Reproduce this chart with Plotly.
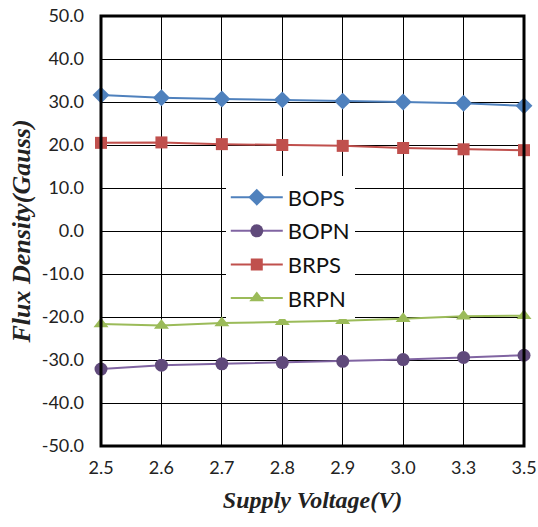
import plotly.graph_objects as go

voltages = ["2.5", "2.6", "2.7", "2.8", "2.9", "3.0", "3.3", "3.5"]
bops = [31.6, 31.0, 30.7, 30.5, 30.2, 30.0, 29.7, 29.1]
bopn = [-32.1, -31.2, -30.9, -30.6, -30.3, -29.9, -29.4, -28.9]
brps = [20.5, 20.6, 20.2, 20.0, 19.8, 19.3, 19.0, 18.8]
brpn = [-21.6, -22.0, -21.4, -21.1, -20.9, -20.4, -19.8, -19.7]
y_ticks = [50, 40, 30, 20, 10, 0, -10, -20, -30, -40, -50]

series = [
    ("BOPS", bops, "#4F81BD", "#4F81BD", "diamond", 13),
    ("BOPN", bopn, "#8064A2", "#604A7B", "circle", 13),
    ("BRPS", brps, "#C0504D", "#C0504D", "square", 12),
    ("BRPN", brpn, "#9BBB59", "#9BBB59", "triangle-up", 13),
]

fig = go.Figure()
for i, (name, vals, lc, mc, sym, sz) in enumerate(series):
    fig.add_trace(go.Scatter(
        x=voltages, y=vals, name=name, mode="lines+markers",
        line=dict(color=lc, width=2),
        marker=dict(symbol=sym, size=sz, color=mc, line=dict(width=0)),
        cliponaxis=False, legendgroup=f"g{i}",
    ))

tick_font = dict(family="Lato, Open Sans, sans-serif", size=18, color="#222222")

fig.update_layout(
    width=538, height=527,
    margin=dict(l=101, r=14, t=16, b=81, autoexpand=False),
    paper_bgcolor="white", plot_bgcolor="white",
    showlegend=True,
    legend=dict(
        x=0.295, y=0.627, xanchor="left", yanchor="top",
        bgcolor="white", borderwidth=0,
        font=dict(family="Lato, Open Sans, sans-serif", size=22, color="#111111"),
        itemwidth=52, tracegroupgap=2,
    ),
    xaxis=dict(
        type="category", range=[0, 7], automargin=False,
        showgrid=True, gridcolor="#000000", gridwidth=1,
        showline=False,
        ticks="", tickfont=tick_font, ticklabelstandoff=9,
        title=dict(text="<b><i>Supply Voltage(V)</i></b>",
                   font=dict(family="Liberation Serif, Times New Roman, serif", size=24, color="#222222"),
                   standoff=14),
        zeroline=False,
    ),
    yaxis=dict(
        range=[-50, 50], tickvals=y_ticks, automargin=False,
        ticktext=[f"{v:.1f}" for v in y_ticks],
        showgrid=True, gridcolor="#000000", gridwidth=1,
        showline=False,
        zeroline=False, ticks="", tickfont=tick_font, ticklabelstandoff=16,
        title=dict(text="<b><i>Flux Density(Gauss)</i></b>",
                   font=dict(family="Liberation Serif, Times New Roman, serif", size=26, color="#222222"),
                   standoff=3),
    ),
    shapes=[dict(type="rect", xref="paper", yref="paper", x0=0, x1=1, y0=0, y1=1,
                 line=dict(color="#000000", width=3), fillcolor="rgba(0,0,0,0)", layer="above")],
)

fig.write_html(
    "out.html",
    config={"displayModeBar": False},
    post_script="document.body.style.margin='0';document.body.style.overflow='hidden';",
)
